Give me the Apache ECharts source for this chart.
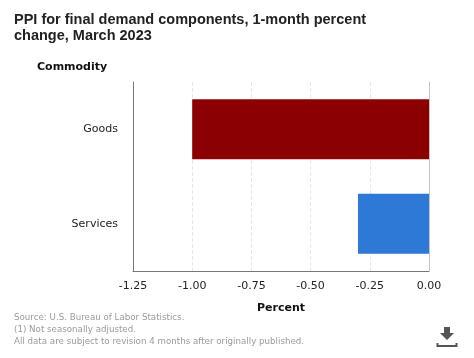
<!DOCTYPE html>
<html><head><meta charset="utf-8">
<style>html,body{margin:0;padding:0;background:#fff}#c{width:474px;height:358px}</style>
<script src="https://cdn.jsdelivr.net/npm/echarts@6/dist/echarts.min.js"></script>
</head><body><div id="c"></div>
<script>
const categories = ['Goods', 'Services'];
const values = [-1.0, -0.3];
const barColors = ['#8b0000', '#2e79d6'];
const titleText = 'PPI for final demand components, 1-month percent\nchange, March 2023';
const footnotes = 'Source: U.S. Bureau of Labor Statistics.\n(1) Not seasonally adjusted.\nAll data are subject to revision 4 months after originally published.';

const chart = echarts.init(document.getElementById('c'), null, {renderer: 'canvas'});
const uiFont = '"DejaVu Sans", sans-serif';
chart.setOption({
  animation: false,
  backgroundColor: '#fff',
  title: {
    text: titleText, left: 9, top: 7,
    textStyle: {fontFamily: '"Liberation Sans", Arial, sans-serif', fontSize: 14.5, fontWeight: 'bold', color: '#222', lineHeight: 16}
  },
  grid: {left: 133, right: 45, top: 82, bottom: 87},
  xAxis: {
    type: 'value', min: -1.25, max: 0, interval: 0.25,
    name: 'Percent', nameLocation: 'middle', nameGap: 32,
    nameTextStyle: {fontFamily: uiFont, fontSize: 11, fontWeight: 'bold', color: '#111'},
    axisLine: {show: true, onZero: false, lineStyle: {color: '#777', width: 1}},
    axisTick: {show: false},
    axisLabel: {
      fontFamily: uiFont, fontSize: 11, color: '#222', margin: 10, hideOverlap: false,
      formatter: v => (v < 0 ? '-' : '') + Math.abs(v).toFixed(2)
    },
    splitLine: {show: true, lineStyle: {color: '#e8e8e8', type: 'dashed', width: 1}}
  },
  yAxis: {
    type: 'category', data: categories, inverse: true,
    axisLine: {show: true, onZero: false, lineStyle: {color: '#777', width: 1}},
    axisTick: {show: false},
    axisLabel: {fontFamily: uiFont, fontSize: 11, color: '#222', margin: 15}
  },
  series: [{
    type: 'bar', barWidth: 60,
    data: values.map((v, i) => ({value: v, itemStyle: {color: barColors[i]}}))
  }],
  graphic: {elements: [
    {type: 'text', left: 37, top: 62, style: {text: 'Commodity', fontFamily: uiFont, fontSize: 11, fontWeight: 'bold', fill: '#111'}},
    {type: 'text', left: 14, top: 312, style: {text: footnotes, fontFamily: uiFont, fontSize: 8.7, lineHeight: 12, fill: '#9a9a9a'}},
    {type: 'line', shape: {x1: 429.5, y1: 82, x2: 429.5, y2: 271}, style: {stroke: '#c4c4c4', lineWidth: 1}, z: 1},
    {type: 'polygon', shape: {points: [[444,327],[450,327],[450,333],[454,333],[447,340],[440,333],[444,333]]}, style: {fill: '#555'}},
    {type: 'polyline', shape: {points: [[437.5,343],[437.5,346],[456.5,346],[456.5,343]]}, style: {stroke: '#555', lineWidth: 2, fill: 'none'}}
  ]}
});
</script></body></html>
